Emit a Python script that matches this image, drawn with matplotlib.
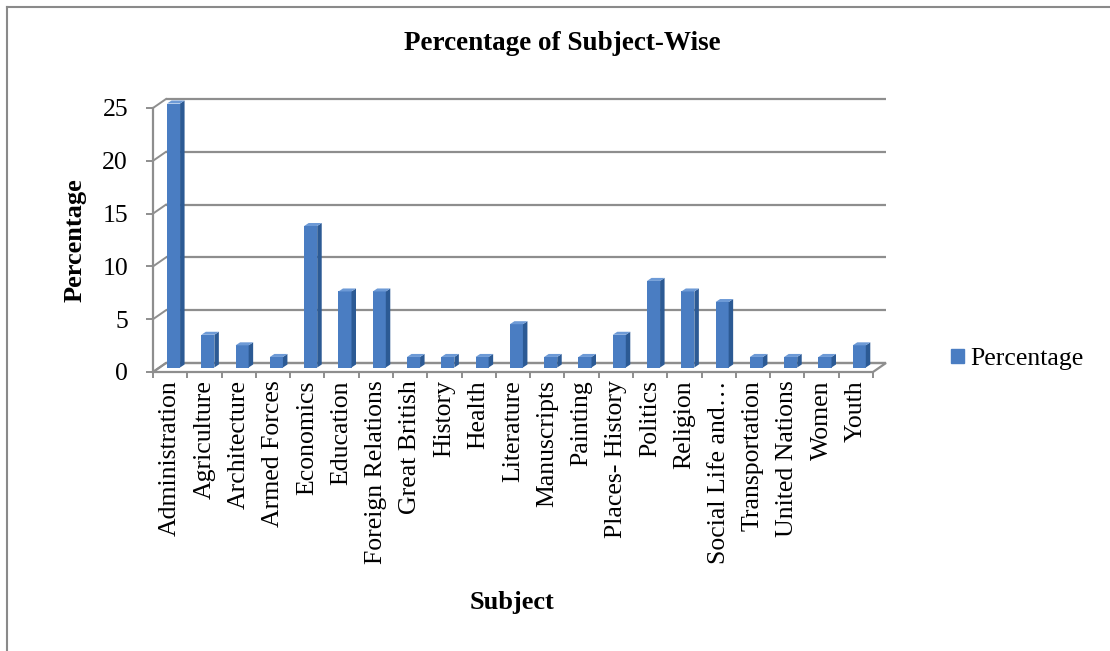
import matplotlib
matplotlib.use("Agg")
import matplotlib.pyplot as plt
from matplotlib.patches import Polygon, Patch
from matplotlib.lines import Line2D

plt.rcParams["font.family"] = ["Liberation Serif", "DejaVu Serif"]

subjects = ["Administration", "Agriculture", "Architecture", "Armed Forces",
            "Economics", "Education", "Foreign Relations", "Great British",
            "History", "Health", "Literature", "Manuscripts", "Painting",
            "Places- History", "Politics", "Religion", "Social Life and\u2026",
            "Transportation", "United Nations", "Women", "Youth"]
percentages = [25.0, 3.1, 2.1, 1.0, 13.4, 7.2, 7.2, 1.0, 1.0, 1.0, 4.1,
               1.0, 1.0, 3.1, 8.2, 7.2, 6.2, 1.0, 1.0, 1.0, 2.1]
y_ticks = [0, 5, 10, 15, 20, 25]
series_name = "Percentage"

W, H = 1110, 651
fig = plt.figure(figsize=(W / 100, H / 100), dpi=100)
fig.patch.set_facecolor("white")

# front plane of the 3-D box, in pixels
L, R, B0, T = 153, 873, 372, 108
ax = fig.add_axes([L / W, 1 - B0 / H, (R - L) / W, (B0 - T) / H])
n = len(subjects)
ax.set_xlim(0, n)
ax.set_ylim(0, 25)
ax.patch.set_visible(False)

kx = n / (R - L)          # data units per pixel
ky = 25 / (B0 - T)
grid_c = "#8e8e8e"
DX, DY = 13 * kx, 9 * ky  # wall depth

# floor
ax.add_patch(Polygon([(0, 0), (n, 0), (n + DX, DY), (DX, DY)], closed=True,
                     fc="white", ec=grid_c, lw=1.6, clip_on=False, zorder=1))
# back-wall gridlines and side-wall diagonals
for v in y_ticks:
    ax.plot([DX, n + DX], [v + DY, v + DY], color=grid_c, lw=1.6,
            clip_on=False, zorder=1, solid_capstyle="butt")
    ax.plot([0, DX], [v, v + DY], color=grid_c, lw=1.4,
            clip_on=False, zorder=1)

# columns with simple 3-D faces
front_c, side_c, top_c = "#4a7dc2", "#2c5a94", "#6d9ad6"
hx, hy = 6.5 * kx, 4.5 * ky   # columns sit mid-depth
bx, by = 4.5 * kx, 3 * ky     # column depth
bw = 0.38
lefts = [i + 0.22 + hx for i in range(n)]
ax.bar(lefts, percentages, width=bw, bottom=hy, align="edge",
       color=front_c, zorder=3, clip_on=False, linewidth=0)
for xl, v in zip(lefts, percentages):
    xr = xl + bw
    ax.add_patch(Polygon([(xr, hy), (xr + bx, hy + by), (xr + bx, v + hy + by),
                          (xr, v + hy)], closed=True, fc=side_c, lw=0,
                         zorder=3, clip_on=False))
    ax.add_patch(Polygon([(xl, v + hy), (xr, v + hy), (xr + bx, v + hy + by),
                          (xl + bx, v + hy + by)], closed=True, fc=top_c, lw=0,
                         zorder=3, clip_on=False))

for s in ["top", "right", "bottom"]:
    ax.spines[s].set_visible(False)
ax.spines["left"].set_color(grid_c)
ax.spines["left"].set_linewidth(1.6)

ax.set_yticks(y_ticks)
ax.set_yticklabels([str(v) for v in y_ticks], fontsize=18.5)
ax.tick_params(axis="y", direction="out", length=5, width=1.4, color=grid_c,
               pad=13)

ax.set_xticks([i + 0.5 for i in range(n)])
ax.set_xticklabels(subjects, rotation=90, fontsize=18.5, va="top", ha="center")
ax.set_xticks(list(range(n + 1)), minor=True)
ax.tick_params(axis="x", which="major", length=0, pad=6)
ax.tick_params(axis="x", which="minor", direction="out", length=4.5,
               width=1.4, color=grid_c)

fig.text(562 / W, 1 - 43 / H, "Percentage of Subject-Wise", ha="center",
         va="center", fontsize=19.5, fontweight="bold")
fig.text(75 / W, 1 - 240 / H, "Percentage", ha="center", va="center",
         rotation=90, fontsize=19, fontweight="bold")
fig.text(512 / W, 1 - 603 / H, "Subject", ha="center", va="center",
         fontsize=19, fontweight="bold")

fig.legend(handles=[Patch(color=front_c, label=series_name)],
           loc="center left", bbox_to_anchor=(951 / W, 1 - 359 / H),
           frameon=False, fontsize=18.5, handlelength=0.5, handleheight=0.5,
           handletextpad=0.25, borderpad=0, borderaxespad=0)

# chart-area frame
fig.add_artist(Line2D([7 / W, 7 / W], [0, 1 - 7 / H], color="#8a8a8a", lw=1.5))
fig.add_artist(Line2D([7 / W, 1], [1 - 7 / H, 1 - 7 / H], color="#8a8a8a", lw=1.5))

fig.savefig("out.png", dpi=100, facecolor="white")
